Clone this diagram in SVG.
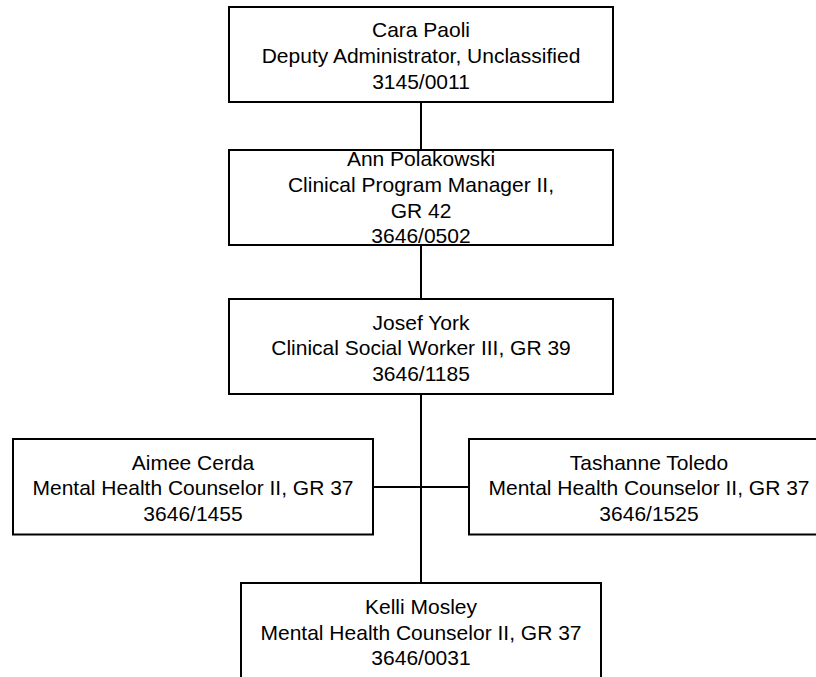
<svg xmlns="http://www.w3.org/2000/svg" width="816" height="677" viewBox="0 0 816 677">
<style>
.box{fill:#fff;stroke:#000;stroke-width:2}
.conn{stroke:#000;stroke-width:2;fill:none}
text{font-family:"Liberation Sans",Arial,sans-serif;font-size:21px;fill:#000;text-anchor:middle}
</style>
<rect width="816" height="677" fill="#fff"/>
<g id="connectors">
<line class="conn" x1="421" y1="102" x2="421" y2="150"/>
<line class="conn" x1="421" y1="245" x2="421" y2="299"/>
<line class="conn" x1="421" y1="394" x2="421" y2="583"/>
<line class="conn" x1="373" y1="487" x2="469" y2="487"/>
</g>
<g id="cara">
<rect class="box" x="229" y="7" width="384" height="95"/>
<text x="421" y="37">Cara Paoli</text>
<text x="421" y="63">Deputy Administrator, Unclassified</text>
<text x="421" y="88.5">3145/0011</text>
</g>
<g id="ann">
<rect class="box" x="229" y="150" width="384" height="95"/>
<text x="421" y="166">Ann Polakowski</text>
<text x="421" y="192">Clinical Program Manager II,</text>
<text x="421" y="218">GR 42</text>
<text x="421" y="243">3646/0502</text>
</g>
<g id="josef">
<rect class="box" x="229" y="299" width="384" height="95"/>
<text x="421" y="329.5">Josef York</text>
<text x="421" y="355">Clinical Social Worker III, GR 39</text>
<text x="421" y="381">3646/1185</text>
</g>
<g id="aimee">
<rect class="box" x="13" y="439" width="360" height="95.5"/>
<text x="193" y="469.5">Aimee Cerda</text>
<text x="193" y="495">Mental Health Counselor II, GR 37</text>
<text x="193" y="521">3646/1455</text>
</g>
<g id="tashanne">
<rect class="box" x="469" y="439" width="360" height="95.5"/>
<text x="649" y="469.5">Tashanne Toledo</text>
<text x="649" y="495">Mental Health Counselor II, GR 37</text>
<text x="649" y="521">3646/1525</text>
</g>
<g id="kelli">
<rect class="box" x="241" y="583" width="360" height="96"/>
<text x="421" y="613.5">Kelli Mosley</text>
<text x="421" y="639.5">Mental Health Counselor II, GR 37</text>
<text x="421" y="665">3646/0031</text>
</g>
</svg>
